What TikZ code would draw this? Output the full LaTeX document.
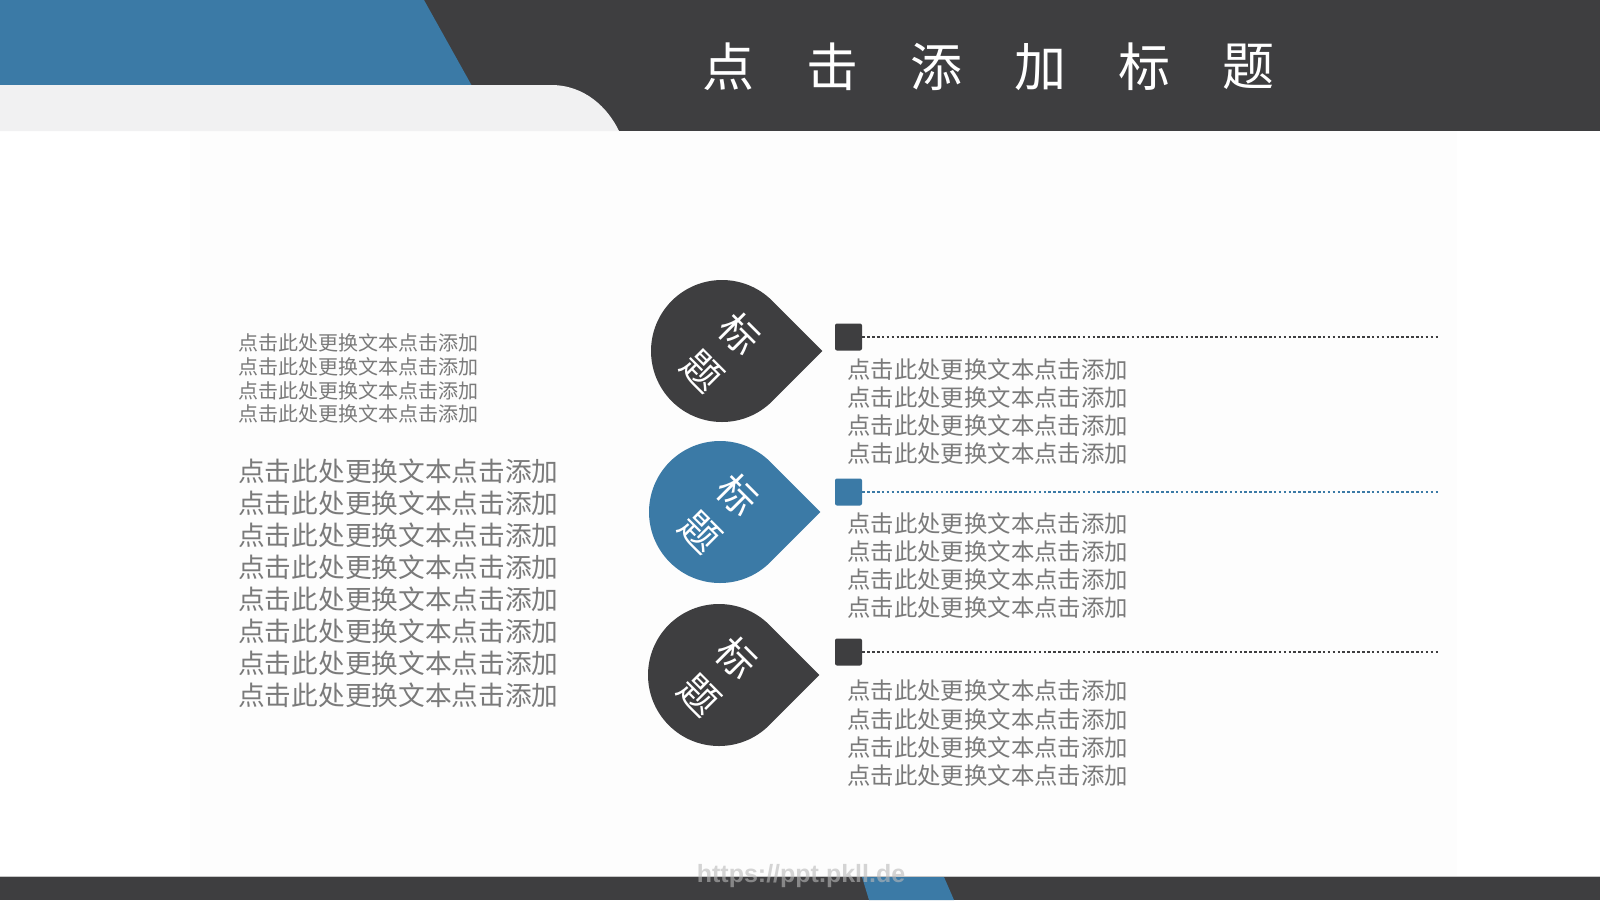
\documentclass[tikz,border=0pt]{standalone}
\usepackage{fontspec}
\newfontfamily\cjk{Noto Sans CJK SC}
\newfontfamily\wmfont{Liberation Sans}
\definecolor{tdark}{RGB}{62,62,64}
\definecolor{tblue}{RGB}{59,122,166}
\definecolor{tgray}{RGB}{122,122,122}
\definecolor{tlight}{RGB}{241,241,242}
\definecolor{tpanel}{RGB}{253,253,253}
\tikzset{
  bodytxt/.style={inner sep=0pt, text=tgray, anchor=base west},
  titlechar/.style={inner sep=0pt, text=white, font=\cjk\fontsize{52}{52}\selectfont},
  dropchar/.style={inner sep=0pt, text=white, rotate=-45, align=center, font=\cjk\fontsize{39}{52}\selectfont},
  marker/.style={inner sep=0pt, minimum size=27pt, rounded corners=2pt},
  dotline/.style={line width=2.8pt, dash pattern=on 2.6pt off 2.3pt},
}
\newcommand{\bodytext}{点击此处更换文本点击添加}
\begin{document}
\begin{tikzpicture}[x=1pt,y=-1pt]
\useasboundingbox (0,0) rectangle (1600,900);
% background
\fill[white] (0,0) rectangle (1600,900);
\fill[tpanel] (190,131) rectangle (1457,877);
% top band
\fill[tdark] (0,0) rectangle (1600,131);
\fill[tblue] (0,0) -- (424,0) -- (472,86) -- (0,86) -- cycle;
\fill[tlight] (0,85) -- (551,85) .. controls (585,85) and (608,108) .. (619,131) -- (0,131) -- cycle;
% title
\foreach \ch [count=\i from 0] in {点,击,添,加,标,题}
  \node[titlechar] (ti\i) at (728.5+104*\i, 67) {\ch};
% bottom strip
\fill[tdark] (0,877) rectangle (1600,900);
\fill[tblue] (862,877) -- (944,877) -- (954,900) -- (869,900) -- cycle;
\draw[gray!45, line width=1pt] (0,876.5) -- (1600,876.5);
\node[inner sep=0pt, text=gray!55, opacity=0.6, font=\wmfont\bfseries\fontsize{25}{25}\selectfont] (wm) at (801,876) {https://ppt.pkll.de};
% left texts
\foreach \i in {0,...,3}
  \node[bodytxt, font=\cjk\fontsize{20}{20}\selectfont] (ls\i) at (238, 350.6+23.7*\i) {\bodytext};
\foreach \i in {0,...,7}
  \node[bodytxt, font=\cjk\fontsize{26.7}{26.7}\selectfont] (lb\i) at (238, 481.1+32.1*\i) {\bodytext};
% teardrops
\coordinate (t1) at (722,351);
\coordinate (t2) at (720,512);
\coordinate (t3) at (719,675);
\foreach \c/\col in {1/tdark,2/tblue,3/tdark}{
  \fill[\col, shift={(t\c)}] (100.4,0) -- (45:71) arc[start angle=45,end angle=315,radius=71] -- cycle;
  \node[dropchar] (dt\c) at ([shift={(-1,1)}]t\c) {标\\题};
}
% markers and dotted lines
\node[marker, fill=tdark] (s1) at (848.5,337) {};
\node[marker, fill=tblue] (s2) at (848.5,492) {};
\node[marker, fill=tdark] (s3) at (848.5,652) {};
\coordinate (e1) at (1440,337);
\coordinate (e2) at (1440,492);
\coordinate (e3) at (1440,652);
\draw[dotline, tdark] (s1.east) -- (e1);
\draw[dotline, tblue] (s2.east) -- (e2);
\draw[dotline, tdark] (s3.east) -- (e3);
% right texts
\foreach \i in {0,...,3}{
  \node[bodytxt, font=\cjk\fontsize{23.4}{23.4}\selectfont] (ra\i) at (847, 378.9+27.9*\i) {\bodytext};
  \node[bodytxt, font=\cjk\fontsize{23.4}{23.4}\selectfont] (rb\i) at (847, 532.4+27.9*\i) {\bodytext};
  \node[bodytxt, font=\cjk\fontsize{23.4}{23.4}\selectfont] (rc\i) at (847, 699.9+28.2*\i) {\bodytext};
}
\end{tikzpicture}
\end{document}
